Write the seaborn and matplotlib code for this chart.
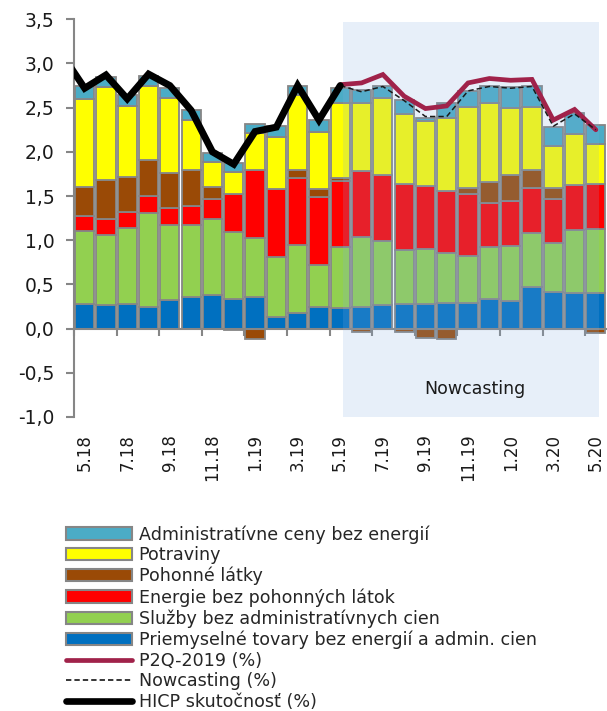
import numpy as np
import pandas as pd
import matplotlib
matplotlib.use("Agg")
import matplotlib.pyplot as plt
import seaborn as sns
from matplotlib.patches import Patch
from matplotlib.lines import Line2D

# ---------------- data ----------------
months = ["5.18", "6.18", "7.18", "8.18", "9.18", "10.18", "11.18", "12.18",
          "1.19", "2.19", "3.19", "4.19", "5.19", "6.19", "7.19", "8.19",
          "9.19", "10.19", "11.19", "12.19", "1.20", "2.20", "3.20", "4.20", "5.20"]

priemyselne = [0.28, 0.27, 0.28, 0.25, 0.32, 0.36, 0.38, 0.34, 0.36, 0.13, 0.18, 0.245, 0.235,
               0.245, 0.27, 0.275, 0.283, 0.29, 0.29, 0.33, 0.31, 0.47, 0.415, 0.40, 0.40]
sluzby = [0.82, 0.79, 0.86, 1.06, 0.85, 0.81, 0.86, 0.75, 0.67, 0.68, 0.77, 0.48, 0.69,
          0.79, 0.72, 0.62, 0.62, 0.57, 0.53, 0.59, 0.63, 0.61, 0.555, 0.72, 0.73]
energie = [0.175, 0.18, 0.18, 0.185, 0.20, 0.215, 0.225, 0.43, 0.77, 0.77, 0.755, 0.76, 0.75,
           0.75, 0.75, 0.74, 0.71, 0.70, 0.70, 0.505, 0.50, 0.51, 0.50, 0.50, 0.51]
pohonne = [0.325, 0.44, 0.39, 0.41, 0.39, 0.415, 0.14, -0.01, -0.12, 0.0, 0.085, 0.10, 0.03,
           -0.04, 0.0, -0.04, -0.11, -0.12, 0.07, 0.23, 0.295, 0.21, 0.12, 0.0, -0.05]
potraviny = [1.00, 1.05, 0.81, 0.84, 0.85, 0.56, 0.28, 0.25, 0.415, 0.59, 0.85, 0.64, 0.85,
             0.77, 0.87, 0.79, 0.735, 0.82, 0.92, 0.90, 0.76, 0.71, 0.475, 0.58, 0.45]
admin = [0.14, 0.12, 0.12, 0.11, 0.115, 0.11, 0.10, 0.10, 0.105, 0.12, 0.10, 0.14, 0.165,
         0.14, 0.13, 0.16, 0.04, 0.17, 0.18, 0.19, 0.24, 0.23, 0.22, 0.24, 0.21]

hicp_months = ["4.18", "5.18", "6.18", "7.18", "8.18", "9.18", "10.18", "11.18", "12.18",
               "1.19", "2.19", "3.19", "4.19", "5.19"]
hicp = [3.08, 2.72, 2.87, 2.60, 2.88, 2.75, 2.47, 2.00, 1.86, 2.23, 2.28, 2.75, 2.36, 2.75]

forecast_months = ["5.19", "6.19", "7.19", "8.19", "9.19", "10.19", "11.19", "12.19",
                   "1.20", "2.20", "3.20", "4.20", "5.20"]
nowcasting = [2.75, 2.68, 2.74, 2.58, 2.40, 2.40, 2.69, 2.74, 2.72, 2.74, 2.29, 2.43, 2.25]
p2q2019 = [2.76, 2.78, 2.875, 2.63, 2.49, 2.52, 2.78, 2.83, 2.81, 2.82, 2.36, 2.48, 2.25]

series_names = ["Priemyselné tovary bez energií a admin. cien",
                "Služby bez administratívnych cien",
                "Energie bez pohonných látok",
                "Pohonné látky",
                "Potraviny",
                "Administratívne ceny bez energií"]
series_values = [priemyselne, sluzby, energie, pohonne, potraviny, admin]
series_colors = ["#0070C0", "#92D050", "#FF0000", "#9A4A06", "#FFFF00", "#4BACC6"]

y_ticks = [-1.0, -0.5, 0.0, 0.5, 1.0, 1.5, 2.0, 2.5, 3.0, 3.5]

# ---------------- figure ----------------
sns.set_theme(style="white")
plt.rcParams["font.family"] = ["DejaVu Sans"]

W, H = 607, 711
fig = plt.figure(figsize=(W / 100, H / 100), dpi=100)
ax = fig.add_axes([74 / W, 1 - 417 / H, (606.5 - 74) / W, (417 - 19.3) / H])

gray = "#868686"
n = len(months)
pos = np.arange(n)

# stacked bars: positives stack upward, negatives downward
pos_base = np.zeros(n)
neg_base = np.zeros(n)
for name, vals, col in zip(series_names, series_values, series_colors):
    v = np.array(vals, dtype=float)
    bottom = np.where(v >= 0, pos_base, neg_base)
    df = pd.DataFrame({"month": months, "value": v})
    sns.barplot(data=df, x="month", y="value", order=months, bottom=bottom,
                color=col, saturation=1, width=0.9, edgecolor=gray, linewidth=1.3,
                ax=ax, zorder=2)
    pos_base = pos_base + np.where(v >= 0, v, 0)
    neg_base = neg_base + np.where(v < 0, v, 0)

# nowcasting shaded region (from mid of 5.19 to mid of 5.20)
x0 = months.index("5.19") + 0.15
x1 = months.index("5.20") + 0.15
ax.fill_between([x0, x1], -1.0, 3.47, color=(130 / 255, 172 / 255, 224 / 255),
                alpha=0.19, linewidth=0, zorder=3)
ax.text((x0 + x1) / 2 + 0.15, -0.68, "Nowcasting", ha="center", va="center",
        fontsize=12.5, color="#1a1a1a", zorder=5)

# lines
hx = [months.index(m) if m in months else months.index(hicp_months[1]) - 1 for m in hicp_months]
fx = [months.index(m) for m in forecast_months]
maroon = "#A0224A"
sns.lineplot(x=fx, y=p2q2019, ax=ax, color=maroon, linewidth=3.4, zorder=6,
             solid_capstyle="round", solid_joinstyle="miter")
sns.lineplot(x=fx, y=nowcasting, ax=ax, color="#1a1a1a", linewidth=1.1, zorder=7,
             linestyle=(0, (3.5, 2)))
sns.lineplot(x=hx, y=hicp, ax=ax, color="black", linewidth=5.0, zorder=8,
             solid_joinstyle="miter", solid_capstyle="round")

# axes styling
ax.set_xlim(-0.5, n - 0.5)
ax.set_ylim(-1.0, 3.5)
ax.set_xlabel("")
ax.set_ylabel("")
for s in ["top", "right"]:
    ax.spines[s].set_visible(False)
ax.spines["left"].set_color(gray)
ax.spines["left"].set_linewidth(1.5)
ax.spines["bottom"].set_position(("data", 0))
ax.spines["bottom"].set_color(gray)
ax.spines["bottom"].set_linewidth(1.5)
ax.spines["bottom"].set_zorder(2.5)

ax.set_yticks(y_ticks)
ax.set_yticklabels([f"{v:.1f}".replace(".", ",") for v in y_ticks])
ax.tick_params(axis="y", length=6, width=1.5, color=gray, direction="out",
               labelsize=13.5, pad=8, labelcolor="#1a1a1a", left=True)

ax.set_xticks(np.arange(-0.5, n - 1, 2))
ax.tick_params(axis="x", length=5, width=1.5, color=gray, direction="out",
               labelbottom=False, bottom=True)

sec = ax.secondary_xaxis("bottom")
sec.set_xticks(np.arange(0, n, 2))
sec.set_xticklabels(months[::2], rotation=90, va="top", ha="center")
sec.tick_params(axis="x", length=0, pad=12, labelsize=12, labelcolor="#1a1a1a")
sec.spines["bottom"].set_visible(False)

# legend
handles = [Patch(facecolor=c, edgecolor=gray, linewidth=1.5)
           for c in series_colors[::-1]]
labels = series_names[::-1]
handles += [Line2D([], [], color=maroon, lw=3.4, solid_capstyle="round"),
            Line2D([], [], color="black", lw=1.1, linestyle=(0, (3.5, 2))),
            Line2D([], [], color="black", lw=4.8, solid_capstyle="round")]
labels += ["P2Q-2019 (%)", "Nowcasting (%)", "HICP skutočnosť (%)"]
fig.legend(handles, labels, loc="upper left", bbox_to_anchor=(66 / W, 1 - 525 / H),
           bbox_transform=fig.transFigure, frameon=False, fontsize=12.6,
           handlelength=3.75, handleheight=0.7, handletextpad=0.4,
           labelspacing=0.155, borderpad=0, borderaxespad=0)

fig.savefig("out.png", dpi=100)
